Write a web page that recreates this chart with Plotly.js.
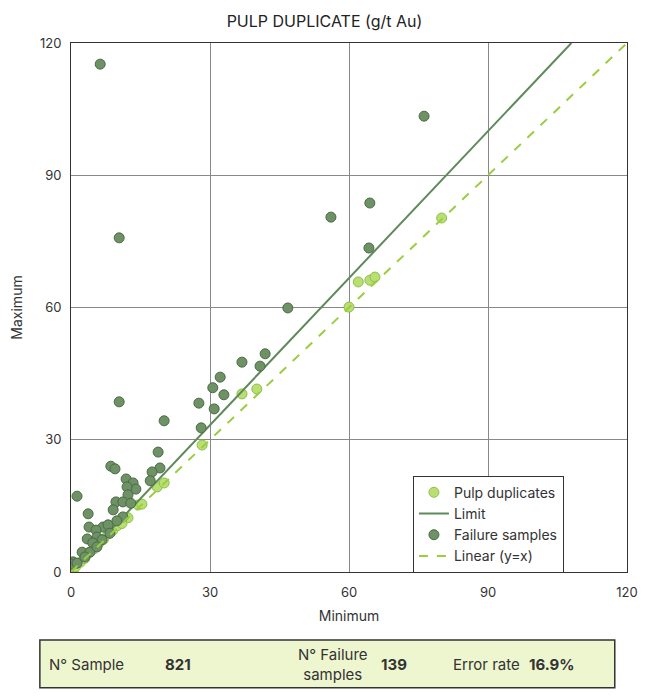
<!DOCTYPE html>
<html>
<head>
<meta charset="utf-8">
<script src="https://cdn.plot.ly/plotly-3.0.1.min.js"></script>
<style>body{margin:0;background:#fff}</style>
</head>
<body>
<div id="chart" style="width:649px;height:698px"></div>
<script>
// failure samples (min, max)
const failX = [6.3, 76.2, 10.4, 56.1, 64.5, 64.3, 46.8, 10.4, 1.3, 20.1, 27.6, 30.6, 32.2, 33.0, 30.9, 28.1,
  36.9, 40.8, 41.9, 18.8, 8.6, 9.5, 19.2, 17.5, 17.1, 11.9, 13.4, 14.0, 12.1, 12.3, 9.7, 11.2, 12.9, 9.1,
  11.2, 3.7, 3.9, 6.9, 8.0, 5.4, 5.6, 3.5, 6.7, 4.7, 2.4, 4.1, 3.0, 0.4, 0, 1.3, 9.9, 8.4, 5.6];
const failY = [115.2, 103.4, 75.8, 80.5, 83.7, 73.5, 59.9, 38.6, 17.2, 34.3, 38.3, 41.8, 44.2, 40.2, 37.0, 32.7,
  47.6, 46.7, 49.5, 27.2, 24.0, 23.4, 23.6, 22.7, 20.7, 21.1, 20.2, 18.8, 19.3, 17.5, 15.9, 15.9, 15.6, 14.1,
  12.5, 13.2, 10.2, 10.2, 10.7, 9.5, 7.9, 7.5, 7.3, 6.6, 4.5, 4.5, 3.4, 2.3, 1.8, 2.0, 11.6, 8.8, 5.7];
// pulp duplicates within limit
const pulpX = [60, 62, 64.5, 65.6, 80, 36.9, 40.1, 28.3, 18.6, 20.1, 14.5, 15.3, 12.3,
  0, 0.5, 1, 2, 3, 4, 5, 6, 7, 8, 9, 10, 11];
const pulpY = [60.1, 65.8, 66.2, 66.9, 80.3, 40.4, 41.5, 28.8, 19.3, 20.2, 15.2, 15.4, 12.3,
  0, 0.3, 1.2, 2.2, 3.1, 4.5, 5.3, 6.5, 7.4, 8.6, 9.4, 10.5, 11];
const limitX = [0, 108];
const limitY = [0, 120];
const lineX = [0, 120];
const lineY = [0, 120];
const axisTicks = [0, 30, 60, 90, 120];
const statLabels = ['N° Sample', 'N° Failure<br>samples', 'Error rate'];
const statValues = ['821', '139', '16.9%'];

const traces = [
  {x: pulpX, y: pulpY, mode: 'markers', name: 'Pulp duplicates',
   marker: {size: 10, color: '#b9de72', line: {color: '#8fbf4a', width: 1}}},
  {x: limitX, y: limitY, mode: 'lines', name: 'Limit',
   line: {color: '#5e8a5a', width: 2}},
  {x: failX, y: failY, mode: 'markers', name: 'Failure samples',
   marker: {size: 10, color: '#6e9165', line: {color: '#4b6b46', width: 1}}},
  {x: lineX, y: lineY, mode: 'lines', name: 'Linear (y=x)',
   line: {color: '#9acd40', width: 2, dash: 'dash'}}
];

const labelX = [-0.043, 0.471, 0.683];
const labelAnchor = ['left', 'center', 'left'];
const valueX = [0.165, 0.554, 0.82];
const annotations = [];
statLabels.forEach((s, i) => {
  annotations.push({xref: 'paper', yref: 'paper', x: labelX[i], y: -0.174, yanchor: 'middle',
    text: s, showarrow: false, xanchor: labelAnchor[i], font: {size: 15, color: '#333'}});
  annotations.push({xref: 'paper', yref: 'paper', x: valueX[i], y: -0.174, yanchor: 'middle',
    text: '<b>' + statValues[i] + '</b>', showarrow: false, xanchor: 'left', font: {size: 15, color: '#333'}});
});

const layout = {
  width: 649, height: 698,
  margin: {l: 71, r: 22, t: 43, b: 126},
  font: {family: 'Inter, "Noto Sans", sans-serif', color: '#333'},
  title: {text: 'PULP DUPLICATE (g/t Au)', x: 0.5, y: 0.978, font: {size: 16, color: '#222'}},
  xaxis: {range: [0, 120], tickvals: axisTicks, gridcolor: '#888', gridwidth: 1, zeroline: false,
    showline: true, linecolor: '#333', mirror: true, ticks: 'outside', ticklen: 8, tickcolor: '#fff',
    title: {text: 'Minimum', font: {size: 14}, standoff: 12}, tickfont: {size: 13}},
  yaxis: {range: [0, 120], tickvals: axisTicks, gridcolor: '#888', gridwidth: 1, zeroline: false,
    showline: true, linecolor: '#333', mirror: true, ticks: 'outside', ticklen: 6, tickcolor: '#fff',
    title: {text: 'Maximum', font: {size: 14}, standoff: 14}, tickfont: {size: 13}},
  showlegend: true,
  legend: {x: 0.615, y: 0.182, xanchor: 'left', yanchor: 'top', bgcolor: '#fff',
    bordercolor: '#333', borderwidth: 1, font: {size: 14}, tracegroupgap: 0},
  shapes: [{type: 'rect', xref: 'paper', yref: 'paper', x0: -0.056, x1: 0.978, y0: -0.219, y1: -0.1285,
    fillcolor: '#eef6cf', line: {color: '#333', width: 1.5}, layer: 'below'}],
  annotations: annotations
};

Plotly.newPlot('chart', traces, layout, {displayModeBar: false});
</script>
</body>
</html>
